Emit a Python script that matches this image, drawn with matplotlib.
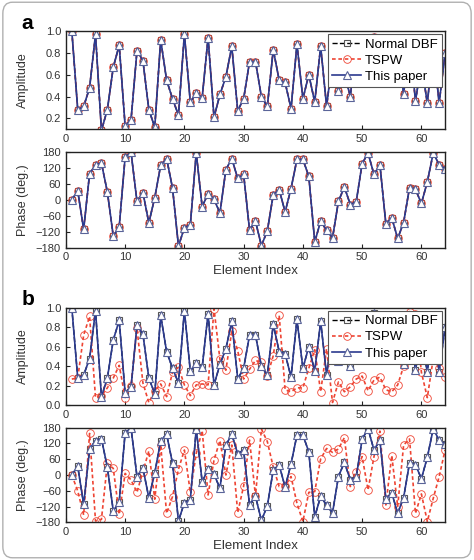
import numpy as np
import matplotlib
matplotlib.use('Agg')
import matplotlib.pyplot as plt
from matplotlib.patches import FancyBboxPatch

plt.rcParams['font.family'] = ['Liberation Sans', 'DejaVu Sans']

# element index 1..64
elem = np.arange(1, 65)

# amplitude of "This paper" (also Normal DBF, and TSPW in a)
amp_this = [1.00, 0.28, 0.31, 0.48, 0.97, 0.09, 0.28, 0.67, 0.87, 0.13,
            0.19, 0.82, 0.73, 0.28, 0.12, 0.92, 0.55, 0.38, 0.23, 0.97,
            0.35, 0.43, 0.39, 0.94, 0.21, 0.42, 0.58, 0.86, 0.27, 0.38,
            0.72, 0.72, 0.40, 0.31, 0.83, 0.55, 0.53, 0.29, 0.88, 0.38,
            0.60, 0.35, 0.86, 0.31, 0.75, 0.45, 0.62, 0.40, 0.90, 0.55,
            0.70, 0.95, 0.60, 0.80, 0.65, 0.88, 0.42, 0.92, 0.36, 0.70,
            0.34, 0.85, 0.34, 0.80]

# phase (deg.) of "This paper"
phase_this = [0, 33, -112, 98, 131, 138, 29, -137, -102, 161,
              178, -6, 27, -87, 8, 130, 155, 44, -175, -105,
              -95, 176, -26, 23, 2, -50, 113, 155, 80, 95,
              -115, -81, -173, -117, 19, 38, -46, 42, 152, 152,
              88, -159, -81, -115, -144, -6, 48, -18, -8, 136,
              176, 95, 132, -90, -68, -146, -86, 46, 39, -14,
              67, 176, 132, 117]

# TSPW in panel b
amp_tspw_b = [0.27, 0.28, 0.72, 0.91, 0.08, 0.10, 0.18, 0.28, 0.41, 0.08,
              0.20, 0.79, 0.23, 0.03, 0.15, 0.22, 0.09, 0.34, 0.39, 0.21,
              0.10, 0.21, 0.22, 0.21, 0.99, 0.47, 0.36, 0.76, 0.56, 0.27,
              0.37, 0.46, 0.44, 0.30, 0.51, 0.92, 0.16, 0.14, 0.18, 0.18,
              0.38, 0.57, 0.14, 0.58, 0.03, 0.24, 0.14, 0.19, 0.27, 0.30,
              0.15, 0.26, 0.29, 0.16, 0.14, 0.21, 0.40, 0.96, 0.94, 0.34,
              0.08, 0.48, 0.38, 0.29]

phase_tspw_b = [0, -61, -152, 158, -175, -169, 44, 25, -150, 6,
                -19, -66, 13, 91, -92, 114, -146, -82, 22, 95,
                -66, 82, 169, -76, 57, 131, 0, 114, -143, -42,
                133, -80, 175, 127, 30, -44, -42, -6, -108, -177,
                -66, -63, 61, 101, 86, 99, 142, -44, 13, 70,
                -57, 70, 167, -114, 74, -120, 114, 137, -146, -72,
                -177, -89, -6, 95]

labels = ['Normal DBF', 'TSPW', 'This paper']
blue = '#2b3a8f'
red = '#ee4433'

fig = plt.figure(figsize=(4.74, 5.6), dpi=100)
fig.patches.append(FancyBboxPatch((0.006, 0.004), 0.988, 0.992,
                                  boxstyle='round,pad=0,rounding_size=0.02',
                                  transform=fig.transFigure, fill=False,
                                  edgecolor='#b0b0b0', linewidth=1.0))

L, W = 0.139, 0.80
axes_pos = [(L, 0.769, W, 0.1755), (L, 0.558, W, 0.1707),
            (L, 0.276, W, 0.1746), (L, 0.0673, W, 0.169)]


def draw(ax, dbf, tspw, this):
    ax.plot(elem, dbf, '--', color='black', lw=1.0, marker='s', ms=4,
            mfc='none', mec='#555555', mew=0.8, label=labels[0])
    ax.plot(elem, tspw, color=red, lw=1.2, ls=(0, (2.2, 1.6)), marker='o',
            ms=5.5, mfc='none', mec=red, mew=0.6, label=labels[1])
    ax.plot(elem, this, '-', color=blue, lw=1.2, marker='^', ms=5.5,
            mfc='white', mec='#5a6499', mew=0.8, label=labels[2])
    ax.set_xlim(0, 64)
    ax.set_xticks(range(0, 61, 10))
    ax.tick_params(direction='in', labelsize=8, colors='#222222', length=3,
                   labelcolor='#333333')
    for s in ax.spines.values():
        s.set_linewidth(1.0)
        s.set_color('#222222')


axs = [fig.add_axes(p) for p in axes_pos]

# panel a
draw(axs[0], amp_this, amp_this, amp_this)
axs[0].set_ylim(0.1, 1.0)
axs[0].set_yticks([0.2, 0.4, 0.6, 0.8, 1.0])
axs[0].set_ylabel('Amplitude', fontsize=9, color='#333333')
draw(axs[1], phase_this, phase_this, phase_this)

# panel b
draw(axs[2], amp_this, amp_tspw_b, amp_this)
axs[2].set_ylim(0.0, 1.0)
axs[2].set_yticks([0.0, 0.2, 0.4, 0.6, 0.8, 1.0])
axs[2].set_ylabel('Amplitude', fontsize=9, color='#333333')
draw(axs[3], phase_this, phase_tspw_b, phase_this)

for ax in (axs[1], axs[3]):
    ax.set_ylim(-180, 180)
    ax.set_yticks(range(-180, 181, 60))
    ax.set_ylabel('Phase (deg.)', fontsize=9, color='#333333')
    ax.set_xlabel('Element Index', fontsize=9.5, color='#333333', labelpad=2)

for ax in (axs[0], axs[2]):
    leg = ax.legend(loc='upper right', fontsize=9.5, frameon=True,
                    fancybox=False, edgecolor='#555555', framealpha=1,
                    handlelength=2.2, handletextpad=0.3, borderpad=0.3,
                    labelspacing=0.3, borderaxespad=0.25)
    leg.get_frame().set_linewidth(0.8)
for ax in axs:
    ax.yaxis.set_label_coords(-0.097, 0.5)

fig.text(0.045, 0.958, 'a', fontsize=15, fontweight='bold', va='center')
fig.text(0.045, 0.465, 'b', fontsize=15, fontweight='bold', va='center')

fig.savefig('out.png', dpi=100)
